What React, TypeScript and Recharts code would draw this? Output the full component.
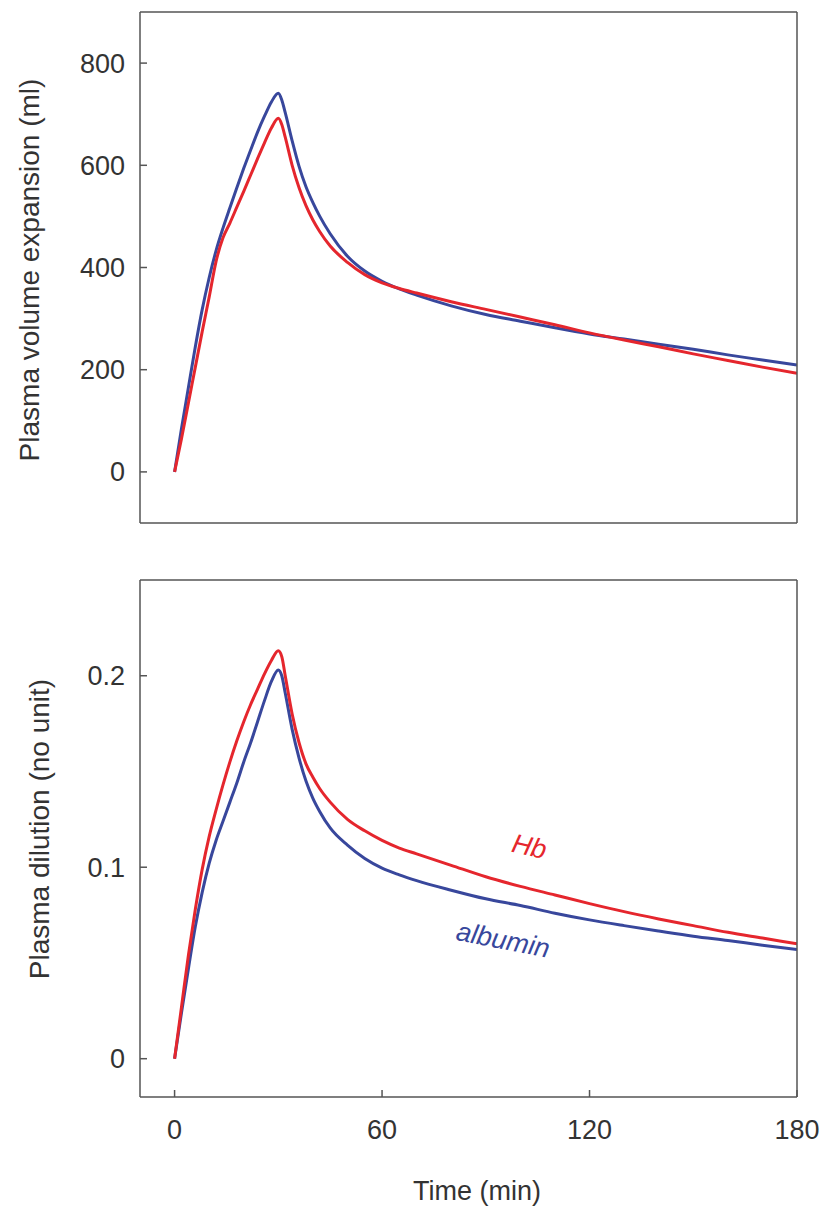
import { LineChart, Line, XAxis, YAxis, ReferenceDot } from "recharts";

const minutes = [
  0, 2, 4, 6, 8, 10, 12, 14, 16, 18, 20, 22, 24, 26, 28, 30, 31, 32, 34, 36,
  38, 40, 42, 45, 50, 55, 60, 65, 70, 80, 90, 100, 110, 120, 130, 140, 150,
  160, 170, 180,
];

// plasma volume expansion (ml)
const volAlbumin = [
  0, 85, 165, 245, 318, 380, 433, 477, 517, 556, 594, 630, 665, 696, 724, 741,
  728, 703, 648, 598, 558, 527, 500, 466, 422, 393, 373, 358, 346, 325, 308,
  295, 282, 270, 260, 250, 240, 229, 219, 209,
];
const volHb = [
  0, 65, 135, 205, 275, 342, 412, 458, 487, 518, 549, 581, 613, 644, 673, 692,
  680, 655, 600, 556, 521, 493, 470, 442, 410, 386, 370, 359, 350, 333, 318,
  303, 288, 272, 258, 245, 231, 218, 205, 193,
];

// plasma dilution (no unit)
const dilAlbumin = [
  0, 0.024, 0.047, 0.069, 0.087, 0.102, 0.114, 0.124, 0.134, 0.144, 0.155,
  0.165, 0.176, 0.187, 0.197, 0.203, 0.2, 0.191, 0.172, 0.157, 0.145, 0.136,
  0.129, 0.1205, 0.1115, 0.1045, 0.0995, 0.096, 0.093, 0.088, 0.0835, 0.08,
  0.076, 0.0725, 0.0695, 0.0667, 0.064, 0.0617, 0.0593, 0.057,
];
const dilHb = [
  0, 0.027, 0.054, 0.078, 0.099, 0.116, 0.13, 0.143, 0.155, 0.166, 0.176,
  0.185, 0.193, 0.201, 0.208, 0.213, 0.21, 0.2, 0.18, 0.165, 0.154, 0.147,
  0.141, 0.134, 0.125, 0.119, 0.114, 0.11, 0.107, 0.101, 0.095, 0.09, 0.0855,
  0.081, 0.0768, 0.073, 0.0695, 0.066, 0.063, 0.06,
];

const timeTicks = [0, 60, 120, 180];
const volTicks = [0, 200, 400, 600, 800];
const dilTicks = [0, 0.1, 0.2];

const RED = "#e5262d";
const BLUE = "#38479c";
const AXIS = "#555";
const TEXT = "#333";
const FONT = "'Liberation Sans', Arial, Helvetica, sans-serif";

const volData = minutes.map((t, i) => ({ t, albumin: volAlbumin[i], hb: volHb[i] }));
const dilData = minutes.map((t, i) => ({ t, albumin: dilAlbumin[i], hb: dilHb[i] }));

const tickStyle = { fill: TEXT, fontSize: 27, fontFamily: FONT };

function Frame({ yDomain, yTicks, showX }: { yDomain: number[]; yTicks: number[]; showX: boolean }) {
  return (
    <>
      <XAxis
        dataKey="t"
        type="number"
        domain={[-10, 180]}
        allowDataOverflow
        ticks={timeTicks}
        tick={showX ? tickStyle : false}
        tickSize={-7}
        tickMargin={30}
        height={showX ? 60 : 30}
        stroke={AXIS}
        strokeWidth={1.5}
      />
      <XAxis
        xAxisId="top"
        orientation="top"
        type="number"
        domain={[-10, 180]}
        allowDataOverflow
        ticks={timeTicks}
        tick={false}
        tickSize={-7}
        height={2}
        stroke={AXIS}
        strokeWidth={1.5}
      />
      <YAxis
        type="number"
        domain={yDomain}
        allowDataOverflow
        ticks={yTicks}
        tick={tickStyle}
        tickSize={-7}
        tickMargin={22}
        width={60}
        stroke={AXIS}
        strokeWidth={1.5}
      />
      <YAxis
        yAxisId="right"
        orientation="right"
        type="number"
        domain={yDomain}
        allowDataOverflow
        ticks={yTicks}
        tick={false}
        tickSize={-7}
        width={2}
        stroke={AXIS}
        strokeWidth={1.5}
      />
    </>
  );
}

function Tag({ x, y, text, color, angle }: { x: number; y: number; text: string; color: string; angle: number }) {
  return (
    <ReferenceDot
      x={x}
      y={y}
      r={0}
      shape={(p: any) => (
        <text
          x={p.cx}
          y={p.cy}
          fill={color}
          fontSize={27}
          fontStyle="italic"
          fontFamily={FONT}
          textAnchor="middle"
          dominantBaseline="central"
          transform={`rotate(${angle} ${p.cx} ${p.cy})`}
        >
          {text}
        </text>
      )}
    />
  );
}

export default function App() {
  return (
    <div
      style={{
        position: "absolute",
        left: 0,
        top: 0,
        width: 835,
        height: 1207,
        background: "#fff",
        fontFamily: FONT,
        color: TEXT,
      }}
    >
      <div style={{ position: "absolute", left: 0, top: 0 }}>
        <LineChart width={835} height={560} data={volData} margin={{ top: 10, right: 36, left: 80, bottom: 7 }}>
          {Frame({ yDomain: [-100, 900], yTicks: volTicks, showX: false })}
          <Line type="monotone" dataKey="albumin" stroke={BLUE} strokeWidth={3} dot={false} isAnimationActive={false} />
          <Line type="monotone" dataKey="hb" stroke={RED} strokeWidth={3} dot={false} isAnimationActive={false} />
        </LineChart>
      </div>
      <div style={{ position: "absolute", left: 0, top: 560 }}>
        <LineChart width={835} height={647} data={dilData} margin={{ top: 18, right: 36, left: 80, bottom: 50 }}>
          {Frame({ yDomain: [-0.02, 0.25], yTicks: dilTicks, showX: true })}
          <Line type="monotone" dataKey="albumin" stroke={BLUE} strokeWidth={3} dot={false} isAnimationActive={false} />
          <Line type="monotone" dataKey="hb" stroke={RED} strokeWidth={3} dot={false} isAnimationActive={false} />
          {Tag({ x: 102.6, y: 0.1108, text: "Hb", color: RED, angle: 13 })}
          {Tag({ x: 95, y: 0.062, text: "albumin", color: BLUE, angle: 11 })}
        </LineChart>
      </div>
      <div
        style={{
          position: "absolute",
          left: 30,
          top: 270,
          transform: "translate(-50%, -50%) rotate(-90deg)",
          whiteSpace: "nowrap",
          fontSize: 28,
        }}
      >
        Plasma volume expansion (ml)
      </div>
      <div
        style={{
          position: "absolute",
          left: 40,
          top: 829,
          transform: "translate(-50%, -50%) rotate(-90deg)",
          whiteSpace: "nowrap",
          fontSize: 28,
        }}
      >
        Plasma dilution (no unit)
      </div>
      <div
        style={{
          position: "absolute",
          left: 477,
          top: 1191,
          transform: "translate(-50%, -50%)",
          whiteSpace: "nowrap",
          fontSize: 27,
        }}
      >
        Time (min)
      </div>
    </div>
  );
}
